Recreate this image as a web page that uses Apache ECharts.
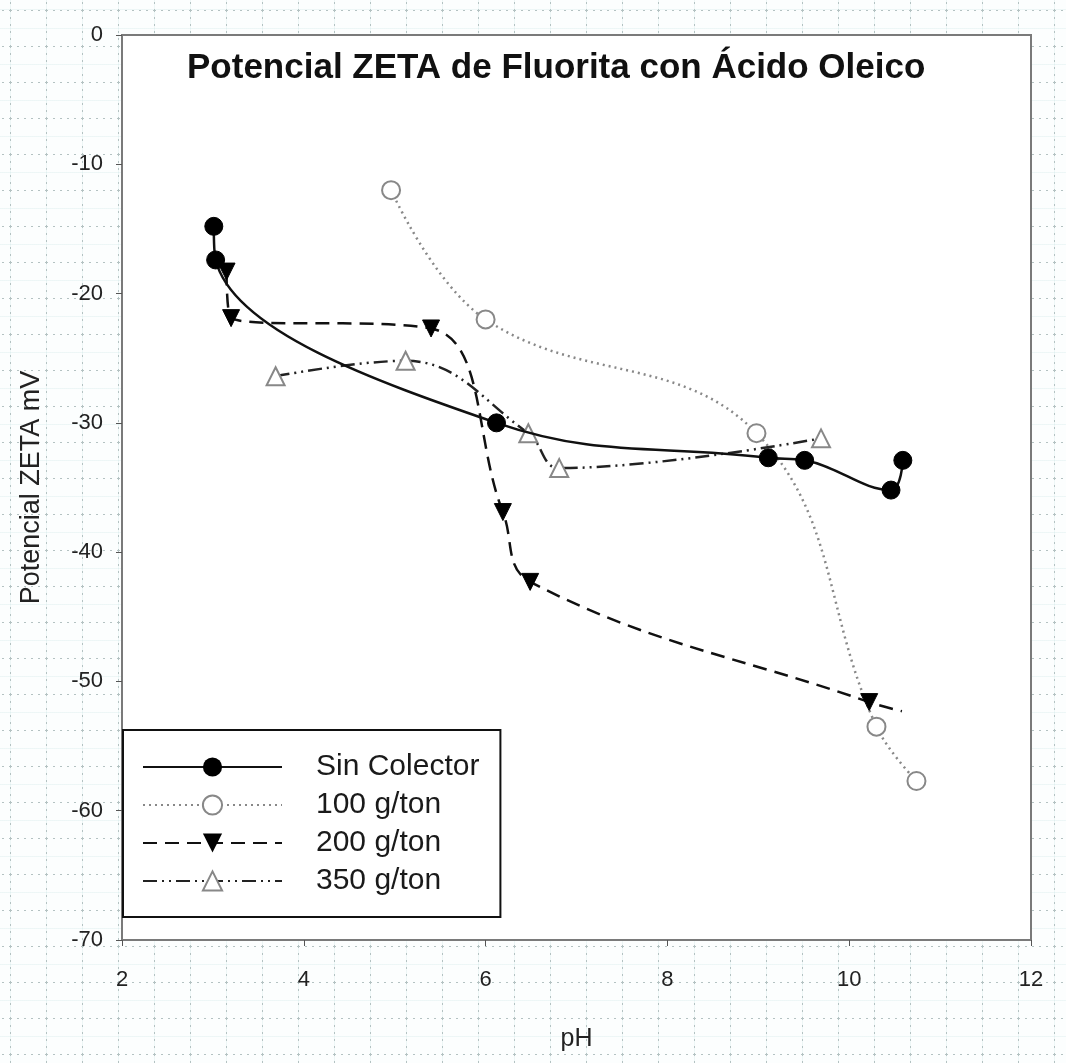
<!DOCTYPE html>
<html>
<head>
<meta charset="utf-8">
<script src="https://cdn.jsdelivr.net/npm/echarts@6/dist/echarts.min.js"></script>
<style>
  html, body { margin: 0; padding: 0; }
  body {
    width: 1066px; height: 1063px;
    background-color: #fcfefe;
    background-image:
      url("data:image/svg+xml;utf8,<svg xmlns='http://www.w3.org/2000/svg' width='36' height='36'><path d='M0 0.5H36M0.5 0V36' stroke='%23b4c2c2' stroke-width='1' stroke-dasharray='2 5' fill='none'/></svg>"),
      repeating-linear-gradient(90deg, rgba(170,215,215,0.18) 0 1px, transparent 1px 36px),
      repeating-linear-gradient(0deg, rgba(170,215,215,0.18) 0 1px, transparent 1px 36px);
    background-position: 10px 10px, 10px 0, 0 10px;
  }
  #chart { width: 1066px; height: 1063px; }
</style>
</head>
<body>
<div id="chart"></div>
<script>
// Zeta potential of fluorite vs pH, with oleic acid dosages
const seriesNames = ['Sin Colector', '100 g/ton', '200 g/ton', '350 g/ton'];

const phSinColector   = [3.01, 3.03, 6.12, 9.11, 9.51, 10.46, 10.59];
const zetaSinColector = [-14.8, -17.4, -30.0, -32.7, -32.9, -35.2, -32.9];

const ph100   = [4.96, 6.00, 8.98, 10.30, 10.74];
const zeta100 = [-12.0, -22.0, -30.8, -53.5, -57.7];

const ph200   = [3.15, 3.20, 5.40, 6.19, 6.49, 10.22, 10.58];
const zeta200 = [-18.3, -21.9, -22.7, -36.9, -42.3, -51.6, -52.3];
const markers200 = [true, true, true, true, true, true, false]; // curve tail has no symbol

const ph350   = [3.69, 5.12, 6.47, 6.81, 9.69];
const zeta350 = [-26.4, -25.2, -30.8, -33.5, -31.2];

const xTicks = [2, 4, 6, 8, 10, 12];
const yTicks = [0, -10, -20, -30, -40, -50, -60, -70];

function pairs(xs, ys, shown) {
  return xs.map((x, i) => {
    const item = { value: [x, ys[i]] };
    if (shown && !shown[i]) item.symbol = 'none';
    return item;
  });
}

const FONT = 'Liberation Sans, Arial, sans-serif';
const chart = echarts.init(document.getElementById('chart'), null, { renderer: 'canvas' });

chart.setOption({
  backgroundColor: 'transparent',
  animation: false,
  title: {
    text: 'Potencial ZETA de Fluorita con Ácido Oleico',
    left: 187, top: 51,
    padding: 0,
    textStyle: { fontFamily: FONT, fontSize: 35, fontWeight: 'bold', color: '#111' }
  },
  grid: {
    left: 122, right: 35, top: 35, bottom: 123,
    show: true, backgroundColor: '#ffffff', borderColor: '#7a7a7a', borderWidth: 2
  },
  legend: {
    left: 123, top: 730,
    orient: 'vertical',
    backgroundColor: '#ffffff',
    borderColor: '#111', borderWidth: 2, borderRadius: 0,
    padding: [22, 21, 21, 19],
    itemWidth: 139, itemHeight: 24, itemGap: 8,
    data: seriesNames,
    textStyle: { fontFamily: FONT, fontSize: 30, color: '#1a1a1a', lineHeight: 30, padding: [0, 0, 0, 29] }
  },
  xAxis: {
    type: 'value', min: xTicks[0], max: xTicks[xTicks.length - 1], interval: 2,
    name: 'pH', nameLocation: 'middle', nameGap: 87,
    nameTextStyle: { fontFamily: FONT, fontSize: 25, color: '#222' },
    axisLine: { show: true, onZero: false, lineStyle: { color: '#7a7a7a', width: 2 } },
    axisTick: { show: true, length: 6, lineStyle: { color: '#555' } },
    axisLabel: { margin: 29, fontFamily: FONT, fontSize: 22, color: '#222' },
    splitLine: { show: false }
  },
  yAxis: {
    type: 'value', min: yTicks[yTicks.length - 1], max: yTicks[0], interval: 10,
    name: 'Potencial ZETA mV', nameLocation: 'middle', nameGap: 77,
    nameTextStyle: { fontFamily: FONT, fontSize: 27, color: '#222', padding: [0, 0, 0, 0] },
    axisLine: { show: true, onZero: false, lineStyle: { color: '#7a7a7a', width: 2 } },
    axisTick: { show: true, length: 6, lineStyle: { color: '#555' } },
    axisLabel: { margin: 19, fontFamily: FONT, fontSize: 22, color: '#222' },
    splitLine: { show: false }
  },
  series: [
    {
      name: seriesNames[0], type: 'line', smooth: 0.4,
      data: pairs(phSinColector, zetaSinColector),
      symbol: 'circle', symbolSize: 18,
      itemStyle: { color: '#000', borderColor: '#000' },
      lineStyle: { color: '#111', width: 2.5, type: 'solid' },
      z: 4
    },
    {
      name: seriesNames[1], type: 'line', smooth: 0.4,
      data: pairs(ph100, zeta100),
      symbol: 'circle', symbolSize: 18,
      itemStyle: { color: '#fff', borderColor: '#888', borderWidth: 2 },
      lineStyle: { color: '#888', width: 2.5, type: [2, 4] },
      z: 3
    },
    {
      name: seriesNames[2], type: 'line', smooth: 0.4,
      data: pairs(ph200, zeta200, markers200),
      symbol: 'triangle', symbolRotate: 180, symbolSize: 17,
      itemStyle: { color: '#000', borderColor: '#000' },
      lineStyle: { color: '#111', width: 2.5, type: [14, 8] },
      z: 3
    },
    {
      name: seriesNames[3], type: 'line', smooth: 0.4,
      data: pairs(ph350, zeta350),
      symbol: 'triangle', symbolSize: 18,
      itemStyle: { color: '#fff', borderColor: '#888', borderWidth: 2 },
      lineStyle: { color: '#222', width: 2.5, type: [14, 5, 2, 5, 2, 5] },
      z: 3
    }
  ]
});
</script>
</body>
</html>
